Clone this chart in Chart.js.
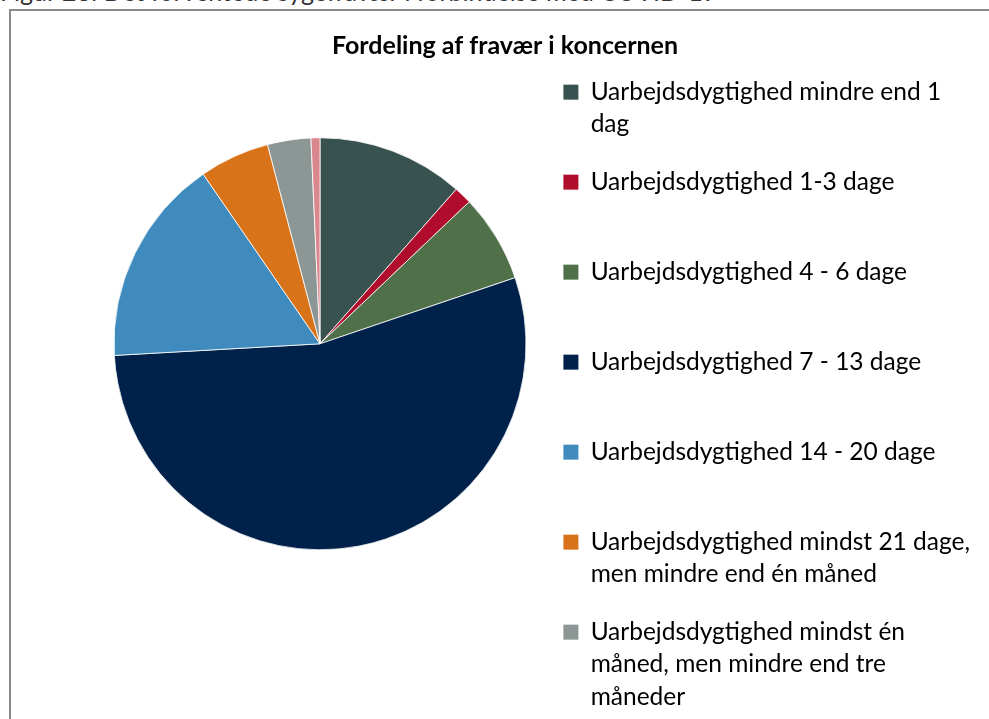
<!DOCTYPE html>
<html lang="da">
<head>
<meta charset="utf-8">
<title>Fordeling af fravær i koncernen</title>
<script src="https://cdn.jsdelivr.net/npm/chart.js@4/dist/chart.umd.min.js"></script>
<style>
    html, body {
        margin: 0;
        padding: 0;
        background: #fff;
        overflow: hidden;
        width: 989px;
        height: 719px;
    }
    #overskrift {
        position: absolute;
        left: 0;
        top: -21px;
        font-family: Lato, sans-serif;
        font-size: 25px;
        line-height: 25px;
        color: #333;
        white-space: nowrap;
    }
    #ramme {
        position: absolute;
        left: 9px;
        top: 9px;
        width: 1000px;
        height: 800px;
        border: 2px solid #8a8a8a;
    }
    #graficoFravaer {
        position: absolute;
        left: 0;
        top: 0;
    }
</style>
</head>
<body>
<div id="overskrift">Figur 28: Det forventede sygefravær i forbindelse med COVID-19</div>
<div id="ramme"></div>
<canvas id="graficoFravaer" width="989" height="900"></canvas>

<script>
// kategorier og andele (%)
var kategorier = [
    'Uarbejdsdygtighed mindre end 1 dag',
    'Uarbejdsdygtighed 1-3 dage',
    'Uarbejdsdygtighed 4 - 6 dage',
    'Uarbejdsdygtighed 7 - 13 dage',
    'Uarbejdsdygtighed 14 - 20 dage',
    'Uarbejdsdygtighed mindst 21 dage, men mindre end én måned',
    'Uarbejdsdygtighed mindst én måned, men mindre end tre måneder',
    'Uarbejdsdygtighed mindst tre måneder'
];

var andele = [11.5, 1.4, 6.9, 54.3, 16.3, 5.5, 3.4, 0.7];

// legendens tekst delt i linjer som i figuren
var legendeLinjer = [
    ['Uarbejdsdygtighed mindre end 1', 'dag'],
    ['Uarbejdsdygtighed 1-3 dage', ''],
    ['Uarbejdsdygtighed 4 - 6 dage', ''],
    ['Uarbejdsdygtighed 7 - 13 dage', ''],
    ['Uarbejdsdygtighed 14 - 20 dage', ''],
    ['Uarbejdsdygtighed mindst 21 dage,', 'men mindre end én måned'],
    ['Uarbejdsdygtighed mindst én', 'måned, men mindre end tre', 'måneder'],
    ['Uarbejdsdygtighed mindst tre', 'måneder']
];

var farver = [
    '#37524F',
    '#B00D2C',
    '#4F7048',
    '#002149',
    '#3F8BBE',
    '#D9731A',
    '#8C9694',
    '#D9878D'
];

// legenden må gå helt ud til kanten, ellers klippes teksten
var legendeTilKant = {
    id: 'legendeTilKant',
    afterLayout: function(chart) {
        chart.legend.right = chart.width;
        chart.legend.width = chart.legend.right - chart.legend.left;
    }
};

var ctx = document.getElementById('graficoFravaer').getContext('2d');

new Chart(ctx, {
    type: 'pie',
    data: {
        labels: kategorier,
        datasets: [{
            data: andele,
            backgroundColor: farver,
            borderColor: '#ffffff',
            borderWidth: 0.8,
            radius: 206
        }]
    },
    options: {
        responsive: false,
        devicePixelRatio: 1,
        animation: false,
        events: [],
        layout: {
            padding: { left: 102, right: 81, top: 0, bottom: 0 }
        },
        plugins: {
            title: {
                display: true,
                text: 'Fordeling af fravær i koncernen',
                color: '#000',
                font: { family: 'Lato', size: 25, weight: 'bold', lineHeight: 1.2 },
                padding: { top: 31, bottom: 10 }
            },
            // tom undertitel i bunden holder cirklen oppe
            subtitle: {
                display: true,
                position: 'bottom',
                text: '',
                font: { size: 10, lineHeight: 1 },
                padding: { top: 273.4, bottom: 0 }
            },
            legend: {
                display: true,
                position: 'right',
                align: 'start',
                maxWidth: 370,
                title: {
                    display: true,
                    text: ' ',
                    font: { size: 10, lineHeight: 1 },
                    padding: { top: 44.5, bottom: 0 }
                },
                labels: {
                    boxWidth: 15,
                    boxHeight: 15,
                    padding: 25.4,
                    color: '#000',
                    font: { family: 'Lato', size: 24.5, lineHeight: '32.3px' },
                    generateLabels: function(chart) {
                        return legendeLinjer.map(function(linjer, i) {
                            return {
                                text: linjer,
                                fillStyle: farver[i],
                                strokeStyle: farver[i],
                                lineWidth: 0,
                                fontColor: '#000',
                                hidden: false,
                                index: i
                            };
                        });
                    }
                }
            },
            tooltip: { enabled: false }
        }
    },
    plugins: [legendeTilKant]
});
</script>
</body>
</html>
